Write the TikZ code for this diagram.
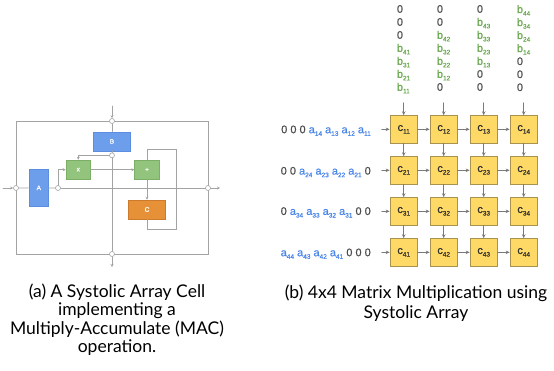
\documentclass[tikz,border=0pt]{standalone}
\usepackage{fontspec}
\setmainfont{Lato}
\newfontfamily\diagfont{Liberation Sans}[FakeBold=0.6]
\usetikzlibrary{arrows.meta}
\usepackage{xcolor}
\definecolor{boxblue}{HTML}{6D9EEB}
\definecolor{boxblueline}{HTML}{5B8DE0}
\definecolor{boxgreen}{HTML}{93C47D}
\definecolor{boxgreenline}{HTML}{7DAE66}
\definecolor{boxorange}{HTML}{E69138}
\definecolor{boxorangeline}{HTML}{CC7A2C}
\definecolor{cellfill}{HTML}{FFD966}
\definecolor{cellline}{HTML}{A8924F}
\definecolor{wiregray}{HTML}{A3A3A3}
\definecolor{arrowgray}{HTML}{7A7A7A}
\definecolor{zerogray}{HTML}{4D4D4D}
\definecolor{ablue}{HTML}{4A86E8}
\definecolor{bgreen}{HTML}{6AA84F}
\newcommand{\lowidx}[1]{\raisebox{-2.6pt}{\fontsize{6.5}{6.5}\selectfont #1}}

\begin{document}
\begin{tikzpicture}[x=1pt,y=-1pt,>={Stealth[length=3pt,width=3pt]},line cap=round,
  unit/.style={draw,line width=0.6pt,inner sep=0pt,text=white,font=\diagfont\fontsize{6.5}{7}\selectfont},
  port/.style={circle,draw=wiregray,fill=white,line width=0.6pt,inner sep=0pt,minimum size=5pt},
  wire/.style={draw=wiregray,line width=0.7pt},
  cell/.style={draw=cellline,fill=cellfill,line width=0.6pt,minimum size=27.5pt,inner sep=0pt,
    font=\diagfont\fontsize{11}{12}\selectfont,text=black!80},
  flow/.style={draw=arrowgray,line width=0.7pt,>={Stealth[length=4pt,width=3.5pt]}},
  feed/.style={font=\diagfont\fontsize{11}{13}\selectfont,inner sep=0pt}]
\useasboundingbox (0,0) rectangle (554,370);

% (a) MAC cell
\draw[wire] (16,121) rectangle (208,254);
\node[unit,fill=boxblue,draw=boxblueline,minimum width=37pt,minimum height=19pt] (B) at (112,141.3) {B};
\node[unit,fill=boxblue,draw=boxblueline,minimum width=19pt,minimum height=37pt] (A) at (38.8,187.8) {A};
\node[unit,fill=boxgreen,draw=boxgreenline,minimum width=24.7pt,minimum height=19.3pt] (mul) at (78.3,169.7) {x};
\node[unit,fill=boxgreen,draw=boxgreenline,minimum width=24.7pt,minimum height=19.3pt] (add) at (147,169.7) {+};
\node[unit,fill=boxorange,draw=boxorangeline,minimum width=37.3pt,minimum height=19pt] (C) at (147,209.5) {C};
\node[port] (ptop) at (112,121) {};
\node[port] (pbot) at (112,254) {};
\node[port] (pleft) at (16,188) {};
\node[port] (pright) at (208,188) {};
\node[port] (pB) at (112,155.3) {};
\node[port] (pA) at (58,188) {};
\coordinate (inT) at (112,106);
\coordinate (outB) at (112,267);
\coordinate (inL) at (3,188);
\coordinate (outR) at (220,188);

\draw[wire,->] (inT) -- (ptop);
\draw[wire] (ptop) -- (B);
\draw[wire] (B) -- (pB);
\draw[wire] (pB) -- (pbot);
\draw[wire,->] (pbot) -- (outB);
\draw[wire,->] (inL) -- (pleft);
\draw[wire] (pleft) -- (A);
\draw[wire] (A) -- (pA);
\draw[wire] (pA) -- (pright);
\draw[wire,->] (pright) -- (outR);
\draw[wire,->] (pB) -| (mul);
\draw[wire,->] (pA) |- (mul);
\draw[wire,->] (mul) -- (add);
\draw[wire,->] (add) -- (C);
\draw[wire] (add.north) -- ++(0,-10.7) -| ++(29,80) -| (C.south);

% (b) 4x4 systolic array
\foreach \r in {1,...,4}
  \foreach \c in {1,...,4}
    \node[cell] (c\r\c) at ({403.7+40*(\c-1)},{129.3+41*(\r-1)}) {c\lowidx{\r\c}};
\foreach \c in {1,...,4} {
  \coordinate (top\c) at ({403.7+40*(\c-1)},102.7);
  \draw[flow,->] (top\c) -- (c1\c);
}
\foreach \r in {1,...,4} {
  \coordinate (left\r) at (381.7,{129.3+41*(\r-1)});
  \draw[flow,->] (left\r) -- (c\r1);
}
\foreach \r in {1,...,4}
  \foreach \c/\n in {1/2,2/3,3/4} {
    \draw[flow,->] (c\r\c) -- (c\r\n);
    \draw[flow,->] (c\c\r) -- (c\n\r);
  }

% A inputs, one row per node
\node[feed,anchor=base east] (ain1) at (371,133.2)
  {\color{zerogray}0 0 0 \color{ablue}a\lowidx{14} a\lowidx{13} a\lowidx{12} a\lowidx{11}};
\node[feed,anchor=base east] (ain2) at (371,174.6)
  {\color{zerogray}0 0 \color{ablue}a\lowidx{24} a\lowidx{23} a\lowidx{22} a\lowidx{21} \color{zerogray}0};
\node[feed,anchor=base east] (ain3) at (371,214.9)
  {\color{zerogray}0 \color{ablue}a\lowidx{34} a\lowidx{33} a\lowidx{32} a\lowidx{31} \color{zerogray}0 0};
\node[feed,anchor=base east] (ain4) at (371,256.2)
  {\color{ablue}a\lowidx{44} a\lowidx{43} a\lowidx{42} a\lowidx{41} \color{zerogray}0 0 0};

% B inputs, one column per node
\node[feed,anchor=north west,align=left,text=zerogray] (bin1) at (396.7,4.9)
  {0\\0\\0\\\textcolor{bgreen}{b\lowidx{41}}\\\textcolor{bgreen}{b\lowidx{31}}\\\textcolor{bgreen}{b\lowidx{21}}\\\textcolor{bgreen}{b\lowidx{11}}};
\node[feed,anchor=north west,align=left,text=zerogray] (bin2) at (436.7,4.9)
  {0\\0\\\textcolor{bgreen}{b\lowidx{42}}\\\textcolor{bgreen}{b\lowidx{32}}\\\textcolor{bgreen}{b\lowidx{22}}\\\textcolor{bgreen}{b\lowidx{12}}\\0};
\node[feed,anchor=north west,align=left,text=zerogray] (bin3) at (476.7,4.9)
  {0\\\textcolor{bgreen}{b\lowidx{43}}\\\textcolor{bgreen}{b\lowidx{33}}\\\textcolor{bgreen}{b\lowidx{23}}\\\textcolor{bgreen}{b\lowidx{13}}\\0\\0};
\node[feed,anchor=north west,align=left,text=zerogray] (bin4) at (516.7,4.9)
  {\textcolor{bgreen}{b\lowidx{44}}\\\textcolor{bgreen}{b\lowidx{34}}\\\textcolor{bgreen}{b\lowidx{24}}\\\textcolor{bgreen}{b\lowidx{14}}\\0\\0\\0};

% captions
\node[align=center,font=\fontsize{17.5}{18.5}\selectfont] (capa) at (117,319.5)
  {(a) A Systolic Array Cell\\implementing a\\Multiply-Accumulate (MAC)\\operation.};
\node[align=center,font=\fontsize{17.5}{20}\selectfont] (capb) at (416,303)
  {(b) 4x4 Matrix Multiplication using\\Systolic Array};
\end{tikzpicture}
\end{document}
